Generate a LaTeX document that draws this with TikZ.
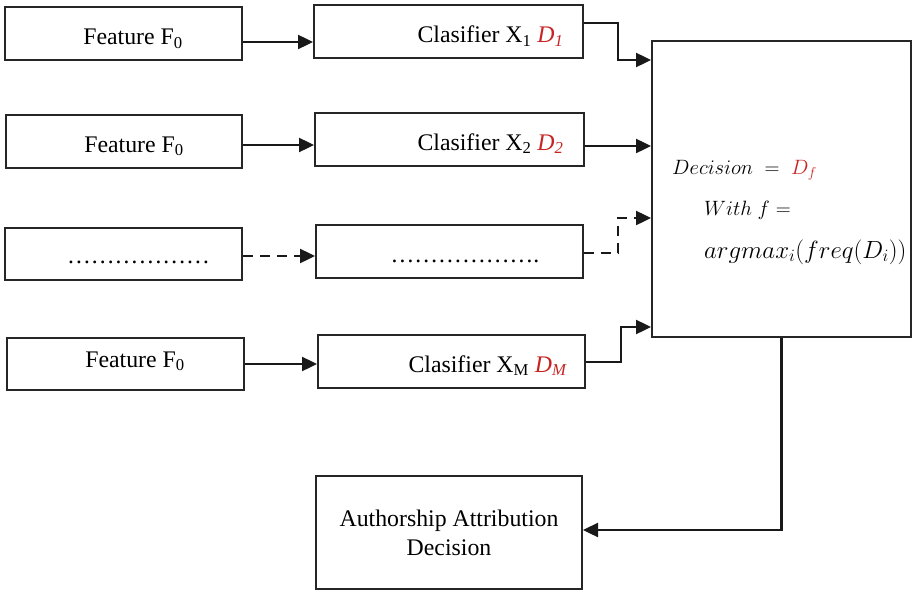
\documentclass[tikz,border=0pt]{standalone}
\usepackage{fontspec}
\setmainfont{Liberation Serif}
\usetikzlibrary{arrows.meta}
\definecolor{dred}{RGB}{200,35,35}
\begin{document}
\begin{tikzpicture}[x=1pt,y=-1pt,
  box/.style={draw=black!85,line width=2pt,inner sep=0pt,rectangle},
  lbl/.style={anchor=base,inner sep=0pt,font=\fontsize{23.8}{29}\selectfont,text=black},
  mth/.style={anchor=base west,inner sep=0pt,font=\fontsize{25}{29}\selectfont,text=black},
  arr/.style={line width=2.4pt,draw=black!90,-{Triangle[length=15pt,width=14pt]}},
  dsh/.style={arr,dash pattern=on 10pt off 7pt}]
\useasboundingbox (0,0) rectangle (912,591);
% feature boxes
\node[box,minimum width=237pt,minimum height=53pt] (f1) at (123.5,33.5) {};
\node[box,minimum width=236pt,minimum height=53pt] (f2) at (124,141.5) {};
\node[box,minimum width=237pt,minimum height=52pt] (f3) at (123.5,254) {};
\node[box,minimum width=237pt,minimum height=52pt] (f4) at (125.5,364) {};
% classifier boxes
\node[box,minimum width=269pt,minimum height=53pt] (c1) at (448.5,31.5) {};
\node[box,minimum width=269pt,minimum height=53pt] (c2) at (449.5,139.5) {};
\node[box,minimum width=267pt,minimum height=53pt] (c3) at (449.5,251.5) {};
\node[box,minimum width=267pt,minimum height=53pt] (c4) at (451.5,361.5) {};
% decision box
\node[box,minimum width=259pt,minimum height=296pt] (d) at (781.5,189) {};
% final box
\node[box,minimum width=266pt,minimum height=113pt,align=center,
  font=\fontsize{23.8}{29}\selectfont,text=black] (a) at (449,532.5)
  {Authorship Attribution\\Decision};
% labels
\node[lbl] (t1) at (133,45) {Feature F\textsubscript{0}};
\node[lbl] (t2) at (134,152) {Feature F\textsubscript{0}};
\node[lbl] (t3) at (138.5,263) {………………};
\node[lbl] (t4) at (135,367) {Feature F\textsubscript{0}};
\node[lbl] (k1) at (490.5,43) {Clasifier X\textsubscript{1} \textcolor{dred}{\textit{D\textsubscript{1}}}};
\node[lbl] (k2) at (490.5,150) {Clasifier X\textsubscript{2} \textcolor{dred}{\textit{D\textsubscript{2}}}};
\node[lbl] (k3) at (465,262) {……………….};
\node[lbl] (k4) at (487.5,372) {Clasifier X\textsubscript{M} \textcolor{dred}{\textit{D\textsubscript{M}}}};
\node[mth,font=\fontsize{22.5}{29}\selectfont] (m1) at (672,174) {$Decision\;=\;\textcolor{dred}{D_f}$};
\node[mth,font=\fontsize{22.5}{29}\selectfont] (m2) at (704,215) {$With\ f =$};
\node[mth] (m3) at (704,258) {$argmax_i(freq(D_i))$};
% connectors
\draw[arr] ([yshift=-8.5pt]f1.east) -- ([yshift=-10.5pt]c1.west);
\draw[arr] ([yshift=-3.5pt]f2.east) -- ([yshift=-5.5pt]c2.west);
\draw[dsh] ([yshift=-2pt]f3.east) -- ([yshift=-4.5pt]c3.west);
\draw[arr] ([yshift=0pt]f4.east) -- ([yshift=-2.5pt]c4.west);
\draw[arr] ([yshift=8.5pt]c1.east) -- ++(34,0) |- ([yshift=129pt]d.west);
\draw[arr] ([yshift=-6.5pt]c2.east) -- ([yshift=43pt]d.west);
\draw[dsh] ([yshift=-1.5pt]c3.east) -- ++(34,0) |- ([yshift=-29pt]d.west);
\draw[arr] ([yshift=-0.5pt]c4.east) -- ++(35,0) |- ([yshift=-138pt]d.west);
\draw[arr] (d.south) |- ([yshift=2.5pt]a.east);
\end{tikzpicture}
\end{document}
